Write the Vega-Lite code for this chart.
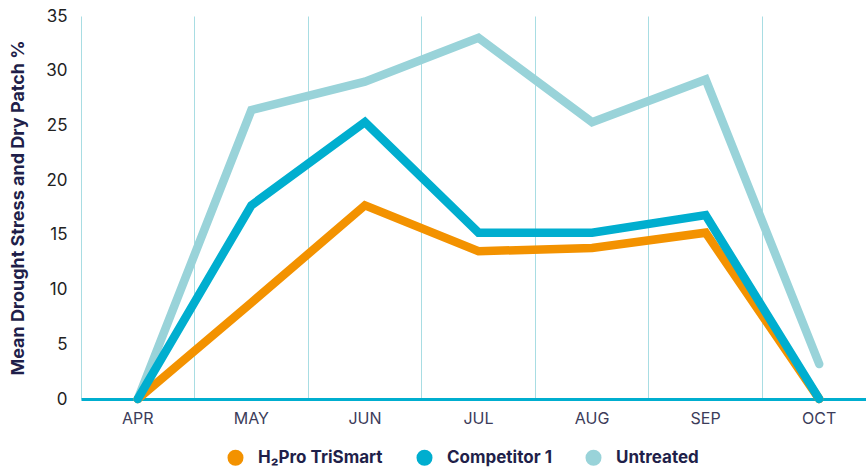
{
  "$schema": "https://vega.github.io/schema/vega-lite/v6.json",
  "width": 795,
  "height": 383,
  "padding": {"left": 9, "top": 7, "right": 0, "bottom": 5},
  "background": "white",
  "config": {
    "font": "Inter",
    "view": {"stroke": null}
  },
  "data": {
    "values": [
      {"month": "APR", "series": "Untreated", "value": 0},
      {"month": "MAY", "series": "Untreated", "value": 26.4},
      {"month": "JUN", "series": "Untreated", "value": 29.0},
      {"month": "JUL", "series": "Untreated", "value": 33.0},
      {"month": "AUG", "series": "Untreated", "value": 25.3},
      {"month": "SEP", "series": "Untreated", "value": 29.2},
      {"month": "OCT", "series": "Untreated", "value": 3.2},
      {"month": "APR", "series": "H₂Pro TriSmart", "value": 0},
      {"month": "MAY", "series": "H₂Pro TriSmart", "value": 8.8},
      {"month": "JUN", "series": "H₂Pro TriSmart", "value": 17.7},
      {"month": "JUL", "series": "H₂Pro TriSmart", "value": 13.5},
      {"month": "AUG", "series": "H₂Pro TriSmart", "value": 13.8},
      {"month": "SEP", "series": "H₂Pro TriSmart", "value": 15.2},
      {"month": "OCT", "series": "H₂Pro TriSmart", "value": 0},
      {"month": "APR", "series": "Competitor 1", "value": 0},
      {"month": "MAY", "series": "Competitor 1", "value": 17.7},
      {"month": "JUN", "series": "Competitor 1", "value": 25.3},
      {"month": "JUL", "series": "Competitor 1", "value": 15.2},
      {"month": "AUG", "series": "Competitor 1", "value": 15.2},
      {"month": "SEP", "series": "Competitor 1", "value": 16.8},
      {"month": "OCT", "series": "Competitor 1", "value": 0}
    ]
  },
  "mark": {"type": "line", "strokeWidth": 8.5, "strokeCap": "round", "strokeJoin": "miter"},
  "encoding": {
    "x": {
      "field": "month",
      "type": "ordinal",
      "sort": ["APR", "MAY", "JUN", "JUL", "AUG", "SEP", "OCT"],
      "scale": {"type": "band", "paddingInner": 0, "paddingOuter": 0},
      "axis": {
        "title": null,
        "labelAngle": 0,
        "labelFontSize": 16,
        "labelColor": "#3c3c5a",
        "labelPadding": 11,
        "ticks": false,
        "grid": true,
        "bandPosition": 0,
        "gridColor": "#a8dde3",
        "gridWidth": 1,
        "domainColor": "#00aecf",
        "domainWidth": 3,
        "zindex": 0
      }
    },
    "y": {
      "field": "value",
      "type": "quantitative",
      "scale": {"domain": [0, 35]},
      "axis": {
        "title": "Mean Drought Stress and Dry Patch %",
        "titleFontSize": 18,
        "titleFontWeight": "bold",
        "titleColor": "#1f1f4a",
        "titlePadding": 18,
        "values": [0, 5, 10, 15, 20, 25, 30, 35],
        "labelFontSize": 17,
        "labelColor": "#222222",
        "labelPadding": 14,
        "ticks": false,
        "domain": false,
        "grid": false
      }
    },
    "color": {
      "field": "series",
      "type": "nominal",
      "scale": {
        "domain": ["H₂Pro TriSmart", "Competitor 1", "Untreated"],
        "range": ["#f39200", "#00aecf", "#99d3d9"]
      },
      "legend": {
        "title": null,
        "orient": "none",
        "legendX": 146,
        "legendY": 433,
        "direction": "horizontal",
        "symbolType": "circle",
        "symbolSize": 64,
        "symbolStrokeWidth": 8,
        "symbolOpacity": 1,
        "labelFontSize": 17,
        "labelFontWeight": "bold",
        "labelColor": "#1f1f4a",
        "labelOffset": 14,
        "columnPadding": 21
      }
    }
  }
}
